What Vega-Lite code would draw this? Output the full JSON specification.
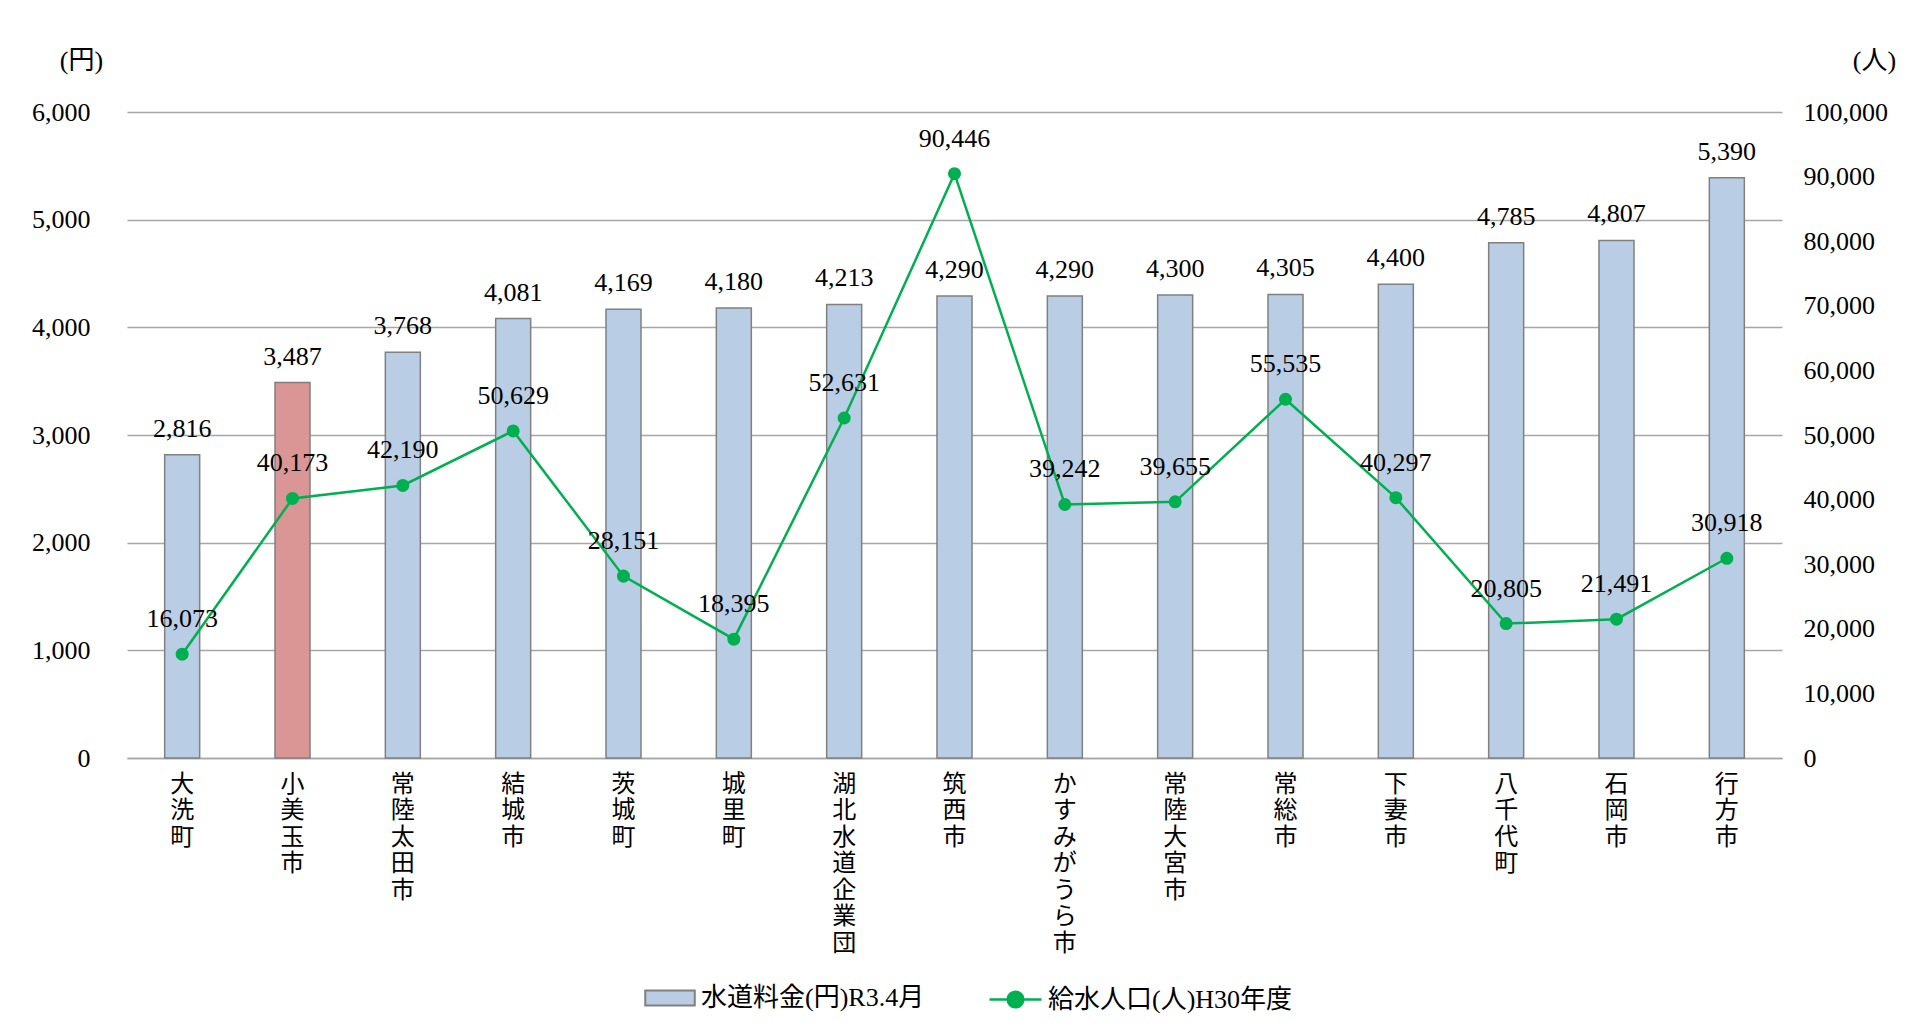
{
  "$schema": "https://vega.github.io/schema/vega-lite/v6.json",
  "width": 1655,
  "height": 646,
  "autosize": {"type": "none"},
  "padding": {"left": 127, "top": 112, "right": 148, "bottom": 273},
  "background": "white",
  "config": {
    "view": {"stroke": null},
    "axis": {
      "labelFont": "Liberation Serif",
      "labelFontSize": 26,
      "labelColor": "#000000",
      "ticks": false,
      "domain": false,
      "titleFont": "Liberation Serif, Noto Sans CJK JP",
      "titleFontSize": 26,
      "titleFontWeight": "normal",
      "titleColor": "#000000"
    },
    "legend": {
      "labelFont": "Liberation Serif, Noto Sans CJK JP",
      "labelFontSize": 26,
      "labelColor": "#000000",
      "labelLimit": 0,
      "padding": 0
    },
    "text": {"font": "Liberation Serif", "fontSize": 26, "color": "#000000"}
  },
  "data": {
    "values": [
      {"name": "大洗町", "price": 2816, "pop": 16073},
      {"name": "小美玉市", "price": 3487, "pop": 40173},
      {"name": "常陸太田市", "price": 3768, "pop": 42190},
      {"name": "結城市", "price": 4081, "pop": 50629},
      {"name": "茨城町", "price": 4169, "pop": 28151},
      {"name": "城里町", "price": 4180, "pop": 18395},
      {"name": "湖北水道企業団", "price": 4213, "pop": 52631},
      {"name": "筑西市", "price": 4290, "pop": 90446},
      {"name": "かすみがうら市", "price": 4290, "pop": 39242},
      {"name": "常陸大宮市", "price": 4300, "pop": 39655},
      {"name": "常総市", "price": 4305, "pop": 55535},
      {"name": "下妻市", "price": 4400, "pop": 40297},
      {"name": "八千代町", "price": 4785, "pop": 20805},
      {"name": "石岡市", "price": 4807, "pop": 21491},
      {"name": "行方市", "price": 5390, "pop": 30918}
    ]
  },
  "encoding": {
    "x": {
      "field": "name",
      "type": "nominal",
      "sort": null,
      "scale": {"paddingInner": 0, "paddingOuter": 0},
      "axis": {
        "title": null,
        "labelAngle": 0,
        "labelFont": "Noto Sans CJK JP",
        "labelFontSize": 24,
        "labelLineHeight": 26.5,
        "labelPadding": 14,
        "labelOverlap": false,
        "labelExpr": "split(datum.label, '')",
        "domain": true,
        "domainColor": "#A6A6A6",
        "domainWidth": 1.3
      }
    }
  },
  "layer": [
    {
      "encoding": {
        "y": {
          "field": "price",
          "type": "quantitative",
          "scale": {"domain": [0, 6000]},
          "axis": {
            "title": "(円)",
            "titleAngle": 0,
            "titleAlign": "center",
            "titleBaseline": "middle",
            "titleX": -46,
            "titleY": -52,
            "values": [0, 1000, 2000, 3000, 4000, 5000, 6000],
            "labelExpr": "format(datum.value, ',')",
            "labelPadding": 37,
            "grid": true,
            "gridColor": "#A6A6A6",
            "gridWidth": 1.3
          }
        }
      },
      "layer": [
        {
          "mark": {"type": "bar", "size": 35, "stroke": "#808080", "strokeWidth": 1.5},
          "encoding": {
            "fill": {
              "datum": "水道料金(円)R3.4月",
              "scale": {"range": ["#B9CDE5"]},
              "condition": {"test": "datum.name === '小美玉市'", "value": "#D99694"},
              "legend": {
                "orient": "none",
                "legendX": 517,
                "legendY": 860,
                "title": null,
                "symbolType": "M-1,-0.3H1V0.3H-1Z",
                "symbolSize": 2450,
                "symbolStrokeColor": "#808080",
                "symbolStrokeWidth": 2,
                "labelOffset": 5,
                "encode": {"symbols": {"update": {"stroke": {"value": "#808080"}, "strokeWidth": {"value": 2}}}}
              }
            }
          }
        },
        {
          "mark": {"type": "text", "baseline": "alphabetic", "align": "center", "dy": -18},
          "encoding": {"text": {"field": "price", "type": "quantitative", "format": ","}}
        }
      ]
    },
    {
      "encoding": {
        "y": {
          "field": "pop",
          "type": "quantitative",
          "scale": {"domain": [0, 100000]},
          "axis": {
            "orient": "right",
            "title": "(人)",
            "titleAngle": 0,
            "titleAlign": "center",
            "titleBaseline": "middle",
            "titleX": 92,
            "titleY": -52,
            "values": [0, 10000, 20000, 30000, 40000, 50000, 60000, 70000, 80000, 90000, 100000],
            "labelExpr": "format(datum.value, ',')",
            "labelPadding": 21,
            "grid": false
          }
        }
      },
      "layer": [
        {
          "mark": {"type": "line", "strokeWidth": 2.5},
          "encoding": {
            "stroke": {
              "datum": "給水人口(人)H30年度",
              "scale": {"range": ["#00B050"]},
              "legend": {
                "orient": "none",
                "legendX": 861,
                "legendY": 860,
                "title": null,
                "symbolType": "M-1,0H1M-0.3,0A0.3,0.3 0 1,0 0.3,0A0.3,0.3 0 1,0 -0.3,0Z",
                "symbolSize": 2700,
                "symbolStrokeWidth": 2.5,
                "labelOffset": 5,
                "encode": {"symbols": {"update": {"fill": {"value": "#00B050"}, "stroke": {"value": "#00B050"}}}}
              }
            }
          }
        },
        {
          "mark": {"type": "point", "filled": true, "size": 170, "opacity": 1, "color": "#00B050"},
          "encoding": {}
        },
        {
          "mark": {"type": "text", "baseline": "alphabetic", "align": "center", "dy": -27},
          "encoding": {"text": {"field": "pop", "type": "quantitative", "format": ","}}
        }
      ]
    }
  ],
  "resolve": {"scale": {"y": "independent"}}
}
